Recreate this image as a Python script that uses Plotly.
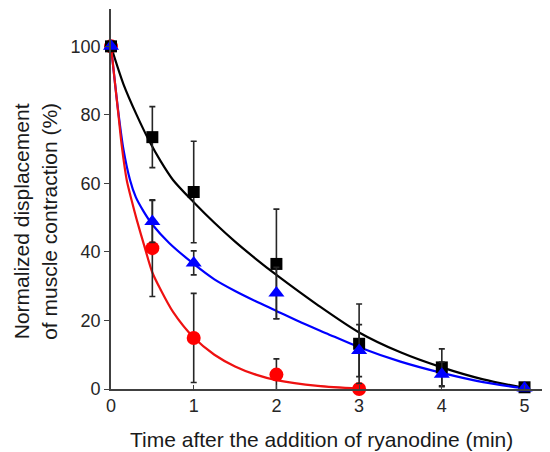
import plotly.graph_objects as go

# ---- measured data points ----
time_pts = [0, 0.5, 1, 2, 3, 4, 5]
black_y = [100, 73.5, 57.5, 36.5, 13.2, 6.3, 0.5]
black_err = [0, 8.9, 14.8, 16, 11.6, 5.4, 0]

blue_y = [100, 48.9, 36.8, 28.0, 11.2, 4.3, 0.3]
blue_err = [0, 6.1, 3.5, 7.5, 7.6, 3.6, 0]

red_x = [0, 0.5, 1, 2, 3]
red_y = [100, 41.1, 14.9, 4.2, 0]
red_err = [0, 14.1, 13.0, 4.6, 0]

# ---- fitted curves ----
black_fit_x = [0, 0.15, 0.31, 0.46, 0.6, 0.75, 1, 1.25, 1.5, 1.75, 2, 2.5, 3, 3.5, 4, 4.5, 5]
black_fit_y = [100, 89, 80, 72.5, 66.5, 61, 54.5, 48.5, 43, 38, 33.3, 24.5, 16.5, 10.7, 6.3, 2.8, 0.3]

blue_fit_x = [0, 0.045, 0.09, 0.15, 0.23, 0.3, 0.39, 0.5, 0.7, 1, 1.25, 1.5, 1.75, 2, 2.3, 2.6, 3, 3.5, 4, 4.5, 5]
blue_fit_y = [100, 90, 80.5, 70, 61, 56, 52, 48, 42.7, 36.5, 32, 28.6, 25.6, 22.8, 19.4, 16.3, 12.2, 8, 4.7, 2, 0.2]

red_fit_x = [0, 0.045, 0.09, 0.13, 0.19, 0.25, 0.31, 0.4, 0.5, 0.6, 0.75, 1, 1.25, 1.5, 1.75, 2, 2.5, 3]
red_fit_y = [100, 90, 80, 71, 61, 55, 49.5, 42, 34, 29, 22.5, 15, 10, 6.6, 4.2, 2.6, 0.9, 0.1]

x_ticks = [0, 1, 2, 3, 4, 5]
y_ticks = [0, 20, 40, 60, 80, 100]

BLACK = "#000000"
BLUE = "#0000ff"
RED = "#ff0000"
ERR = "#262626"

fig = go.Figure()

# curves
fig.add_trace(go.Scatter(x=black_fit_x, y=black_fit_y, mode="lines",
                         line=dict(color=BLACK, width=2.2, shape="spline", smoothing=0.8),
                         hoverinfo="skip"))
fig.add_trace(go.Scatter(x=blue_fit_x, y=blue_fit_y, mode="lines",
                         line=dict(color=BLUE, width=2.2, shape="spline", smoothing=0.8),
                         hoverinfo="skip"))
fig.add_trace(go.Scatter(x=red_fit_x, y=red_fit_y, mode="lines",
                         line=dict(color="#ee1111", width=2.2, shape="spline", smoothing=0.8),
                         hoverinfo="skip"))

def err(vals):
    return dict(type="data", array=vals, visible=True, color=ERR, thickness=1.6, width=3)

# markers
fig.add_trace(go.Scatter(x=red_x, y=red_y, mode="markers", cliponaxis=False,
                         marker=dict(symbol="circle", size=14, color=RED),
                         error_y=err(red_err)))
fig.add_trace(go.Scatter(x=time_pts, y=black_y, mode="markers", cliponaxis=False,
                         marker=dict(symbol="square", size=12, color=BLACK),
                         error_y=err(black_err)))
fig.add_trace(go.Scatter(x=time_pts, y=blue_y, mode="markers", cliponaxis=False,
                         marker=dict(symbol="triangle-up", size=14, color=BLUE),
                         error_y=err(blue_err)))

AXC = "#404040"
# the page body adds an 8px margin, so the figure is 8px smaller than the window
fig.update_layout(
    width=542, height=444,
    margin=dict(l=103, r=0, t=1, b=63),
    plot_bgcolor="white", paper_bgcolor="white",
    showlegend=False,
    font=dict(family="Liberation Sans, Arial, sans-serif", size=18, color="#262626"),
    xaxis=dict(range=[0, 5.308], tickvals=x_ticks, ticktext=[str(v) for v in x_ticks],
               showline=True, linecolor=AXC, linewidth=1.6, ticks="inside", ticklen=4,
               tickcolor=AXC, tickwidth=1.3, showgrid=False, zeroline=False,
               tickfont=dict(size=18)),
    yaxis=dict(range=[0, 110.9], tickvals=y_ticks, ticktext=[str(v) for v in y_ticks],
               showline=True, linecolor=AXC, linewidth=1.6, ticks="outside", ticklen=5,
               tickcolor=AXC, tickwidth=1.3, showgrid=False, zeroline=False,
               tickfont=dict(size=18)),
    annotations=[
        dict(text="Time after the addition of ryanodine (min)", xref="paper", yref="paper",
             x=0.4806, y=-0.133, xanchor="center", yanchor="middle", showarrow=False,
             font=dict(size=21, color="#1a1a1a")),
        dict(text="Normalized displacement<br>of muscle contraction (%)", xref="paper", yref="paper",
             x=-0.173, y=0.44, xanchor="center", yanchor="middle", showarrow=False,
             textangle=-90, font=dict(size=21, color="#1a1a1a")),
    ],
)

fig.write_html("out.html")
